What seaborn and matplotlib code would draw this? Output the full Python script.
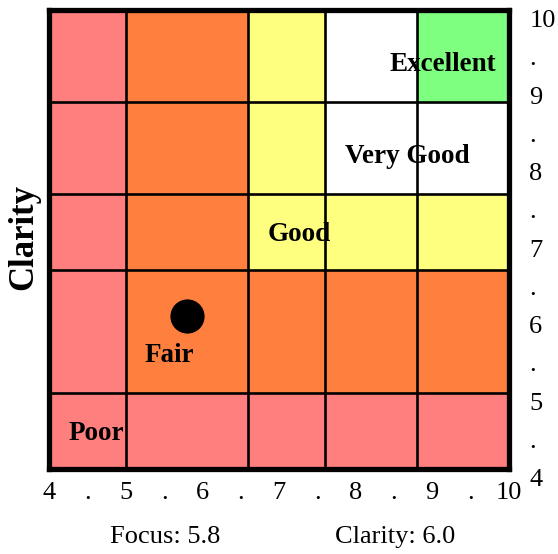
import numpy as np
import seaborn as sns
import matplotlib.pyplot as plt
from matplotlib.colors import ListedColormap, BoundaryNorm

# Band edges shared by both axes
edges = [4, 5, 6.6, 7.6, 8.8, 10]
ratings = ["Poor", "Fair", "Good", "Very Good", "Excellent"]
rating_colors = ["#ff7f7f", "#ff7f3f", "#ffff7f", "#ffffff", "#7fff7f"]

# rating index per cell, rows = clarity band (bottom to top), cols = focus band
grid = [
    [0, 0, 0, 0, 0],
    [0, 1, 1, 1, 1],
    [0, 1, 2, 2, 2],
    [0, 1, 2, 3, 3],
    [0, 1, 2, 3, 4],
]

# label anchor points (focus, clarity)
label_x = [4.61, 5.57, 7.26, 8.68, 9.14]
label_y = [4.46, 5.48, 7.06, 8.08, 9.29]

focus = 5.8
clarity = 6.0

sns.set_style("white")
plt.rcParams['font.family'] = ['Liberation Serif', 'DejaVu Serif']
plt.rcParams['text.color'] = 'black'
plt.rcParams['xtick.color'] = 'black'
plt.rcParams['ytick.color'] = 'black'

fig = plt.figure(figsize=(5.58, 5.54), dpi=100)
ax = fig.add_axes([0.0887, 0.1534, 0.8226, 0.8285])

cmap = ListedColormap(rating_colors)
norm = BoundaryNorm(np.arange(-0.5, 5.5, 1), cmap.N)
ax.pcolormesh(edges, edges, np.array(grid), cmap=cmap, norm=norm,
              edgecolors="none", zorder=0)

for name, lx, ly in zip(ratings, label_x, label_y):
    ax.text(lx, ly, name, ha="center", va="center", fontsize=19.5,
            fontweight="bold", color="black", zorder=1)

# grid lines drawn over the labels
ax.vlines(edges[1:-1], 4, 10, colors="black", linewidth=1.9, zorder=2)
ax.hlines(edges[1:-1], 4, 10, colors="black", linewidth=1.9, zorder=2)

sns.scatterplot(x=[focus], y=[clarity], s=520, color="black",
                edgecolor="black", ax=ax, zorder=5, legend=False)

ax.set_xlim(4, 10)
ax.set_ylim(4, 10)

ticks = np.arange(4, 10.01, 0.5)
tick_labels = [str(int(t)) if t == int(t) else "." for t in ticks]
ax.set_xticks(ticks)
ax.set_xticklabels(tick_labels, fontsize=19)
ax.yaxis.tick_right()
ax.set_yticks(ticks)
ax.set_yticklabels(tick_labels, fontsize=19, va="top", ha="left")
ax.tick_params(axis="x", length=0, pad=9)
ax.tick_params(axis="y", length=0, pad=15)

for sp in ax.spines.values():
    sp.set_visible(True)
    sp.set_linewidth(3.8)
    sp.set_color("black")
    sp.set_zorder(6)

ax.set_xlabel("")
ax.set_ylabel("")
fig.text(0.042, 0.573, "Clarity", rotation=90, ha="center", va="center",
         fontsize=25, fontweight="bold")
fig.text(0.296, 0.031, f"Focus: {focus}", ha="center", va="center", fontsize=19)
fig.text(0.708, 0.031, f"Clarity: {clarity}", ha="center", va="center", fontsize=19)

fig.savefig("out.png", dpi=100)
